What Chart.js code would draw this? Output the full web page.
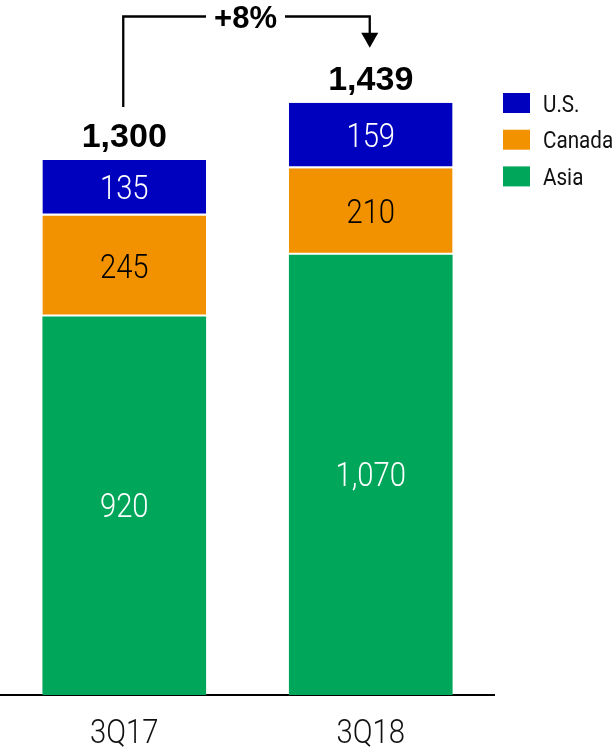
<!DOCTYPE html>
<html>
<head>
<meta charset="utf-8">
<script src="https://cdn.jsdelivr.net/npm/chart.js@4.4.1/dist/chart.umd.min.js"></script>
<style>
  html, body { margin: 0; padding: 0; background: #fff; }
  #wrap { width: 616px; height: 752px; }
</style>
</head>
<body>
<div id="wrap"><canvas id="c" width="616" height="752"></canvas></div>
<script>
// ---- Data ----
const categories = ['3Q17', '3Q18'];
const asiaValues = [920, 1070];
const canadaValues = [245, 210];
const usValues = [135, 159];
const totalValues = [1300, 1439];
const growthLabel = '+8%';
const seriesNames = ['U.S.', 'Canada', 'Asia'];

// ---- Styles ----
const BLUE = '#0000BF';
const ORANGE = '#F39200';
const GREEN = '#00A65A';
const FONT = "Roboto, 'Liberation Sans', sans-serif";
const BOLD_FONT = "'Liberation Sans', Arial, sans-serif";
const SX = 0.86; // horizontal condensing of the regular text

function fmt(v) { return v.toLocaleString('en-US'); }

function narrowText(ctx, text, x, y, font, color, align) {
  ctx.save();
  ctx.font = font;
  ctx.fillStyle = color;
  ctx.textAlign = align || 'center';
  ctx.textBaseline = 'alphabetic';
  ctx.translate(x, y);
  ctx.scale(SX, 1);
  ctx.fillText(text, 0, 0);
  ctx.restore();
}

const overlayPlugin = {
  id: 'overlay',
  afterDatasetsDraw(chart) {
    const ctx = chart.ctx;
    const xs = chart.scales.x, ys = chart.scales.y;
    ctx.save();
    // segment values
    chart.data.datasets.forEach((ds, di) => {
      const meta = chart.getDatasetMeta(di);
      meta.data.forEach((bar, i) => {
        const yc = (bar.y + bar.base) / 2;
        narrowText(ctx, fmt(ds.data[i]), bar.x, yc + 11.5, '300 34px ' + FONT, ds.labelColor);
      });
    });
    // category labels
    categories.forEach((c, i) => {
      narrowText(ctx, c, xs.getPixelForValue(i), 743, '300 34px ' + FONT, '#111');
    });
    // totals
    ctx.fillStyle = '#000';
    ctx.font = 'bold 34px ' + BOLD_FONT;
    ctx.textAlign = 'center';
    ctx.textBaseline = 'alphabetic';
    const topMeta = chart.getDatasetMeta(chart.data.datasets.length - 1);
    totalValues.forEach((t, i) => {
      const x = topMeta.data[i].x;
      const y = ys.getPixelForValue(t);
      ctx.fillText(fmt(t), x, y - 13);
    });
    // growth bracket
    const x1 = topMeta.data[0].x - 1;
    const x2 = topMeta.data[1].x - 1;
    const y1 = ys.getPixelForValue(totalValues[0]) - 53;
    const y2 = ys.getPixelForValue(totalValues[1]) - 55;
    const yTop = 16.5;
    const gapL = 206, gapR = 285;
    ctx.strokeStyle = '#000';
    ctx.lineWidth = 2.3;
    ctx.beginPath();
    ctx.moveTo(x1, y1);
    ctx.lineTo(x1, yTop);
    ctx.lineTo(gapL, yTop);
    ctx.moveTo(gapR, yTop);
    ctx.lineTo(x2, yTop);
    ctx.lineTo(x2, y2 - 14);
    ctx.stroke();
    ctx.beginPath();
    ctx.moveTo(x2 - 8.5, y2 - 15);
    ctx.lineTo(x2 + 8.5, y2 - 15);
    ctx.lineTo(x2, y2);
    ctx.closePath();
    ctx.fill();
    ctx.font = 'bold 31px ' + BOLD_FONT;
    ctx.textAlign = 'center';
    ctx.textBaseline = 'alphabetic';
    ctx.fillText(growthLabel, (gapL + gapR) / 2, 27.5);
    // legend
    const legendColors = [BLUE, ORANGE, GREEN];
    seriesNames.forEach((name, i) => {
      const top = 93 + i * 36.7;
      ctx.fillStyle = legendColors[i];
      ctx.fillRect(503, top, 27, 20);
      narrowText(ctx, name, 543, top + 18.5, '24px ' + FONT, '#111', 'left');
    });
    ctx.restore();
  }
};

const chart = new Chart(document.getElementById('c'), {
  type: 'bar',
  data: {
    labels: categories,
    datasets: [
      { label: seriesNames[2], data: asiaValues, backgroundColor: GREEN, labelColor: '#fff',
        borderWidth: 0 },
      { label: seriesNames[1], data: canadaValues, backgroundColor: ORANGE, labelColor: '#000',
        borderColor: '#fff', borderSkipped: false, borderWidth: { top: 0, left: 0, right: 0, bottom: 2 } },
      { label: seriesNames[0], data: usValues, backgroundColor: BLUE, labelColor: '#fff',
        borderColor: '#fff', borderSkipped: false, borderWidth: { top: 0, left: 0, right: 0, bottom: 2 } }
    ]
  },
  options: {
    responsive: false,
    animation: false,
    devicePixelRatio: 1,
    layout: { padding: { left: 1, right: 122, top: 0, bottom: 0 } },
    plugins: { legend: { display: false }, tooltip: { enabled: false } },
    datasets: { bar: { barPercentage: 0.664, categoryPercentage: 1.0 } },
    scales: {
      x: {
        stacked: true,
        grid: { display: false },
        border: { display: true, color: '#000', width: 2 },
        ticks: { display: false },
        afterFit(scale) { scale.height = 57; }
      },
      y: {
        stacked: true,
        display: false,
        min: 0,
        max: 1689
      }
    }
  },
  plugins: [overlayPlugin]
});
</script>
</body>
</html>
